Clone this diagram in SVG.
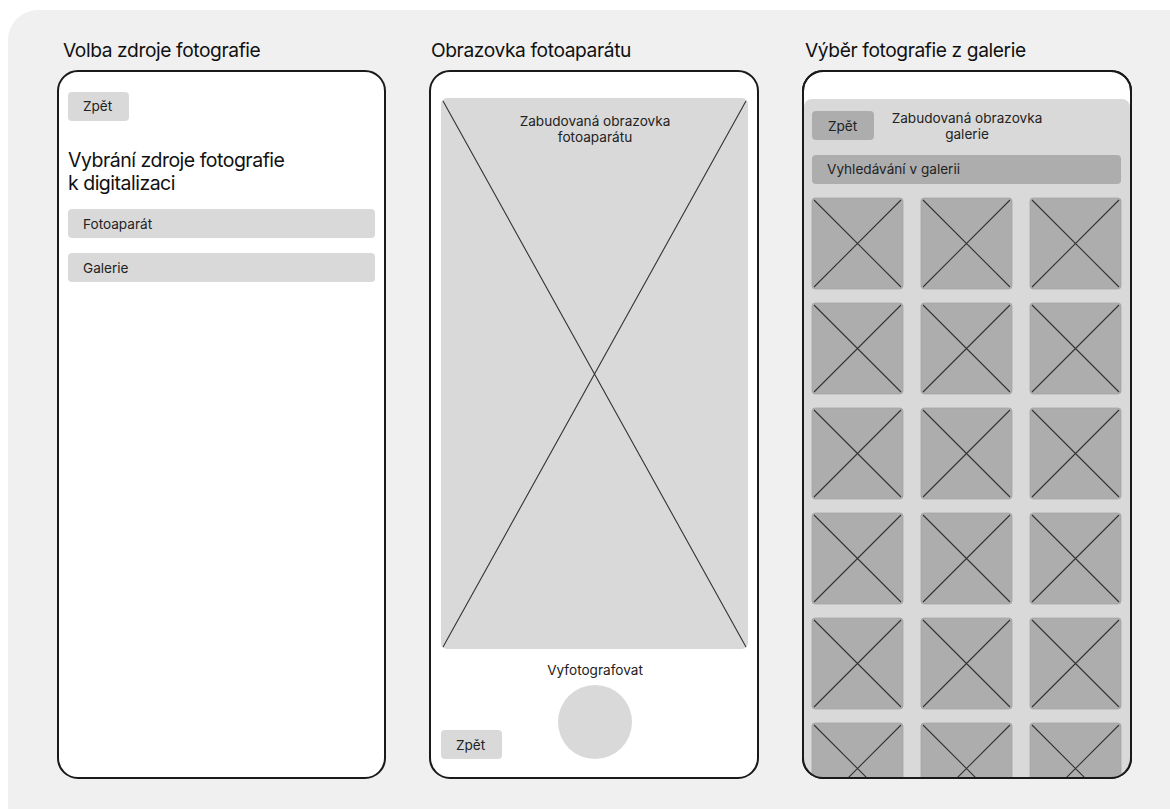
<svg xmlns="http://www.w3.org/2000/svg" width="1170" height="809" viewBox="0 0 1170 809">
<style>
.title{font-family:Inter,"Liberation Sans",sans-serif;font-size:19.2px;letter-spacing:-0.4px;fill:#111}
.h{font-family:Inter,"Liberation Sans",sans-serif;font-size:19.5px;letter-spacing:-0.5px;fill:#111}
.t{font-family:Inter,"Liberation Sans",sans-serif;font-size:13.6px;fill:#222}
.phone{fill:#fff;stroke:#1a1a1a;stroke-width:2}
.btn{fill:#d9d9d9}
.btn2{fill:#adadad}
.x{stroke:#333;stroke-width:1.1;fill:none}
</style>
<defs>
<clipPath id="p3clip"><rect x="803" y="71" width="328" height="707" rx="20"/></clipPath>
<g id="thumb">
<rect x="0" y="0" width="91" height="91" rx="3" fill="#adadad" stroke="#a5a5a5" stroke-width="0.8"/>
<path d="M2 2L89 89M89 2L2 89" class="x"/>
</g>
</defs>
<rect x="0" y="0" width="1170" height="809" fill="#fff"/>
<rect x="8" y="10" width="1200" height="830" rx="30" fill="#f0f0f0"/>

<g id="screen1">
<text class="title" x="63" y="57">Volba zdroje fotografie</text>
<rect class="phone" x="58" y="71" width="327" height="707" rx="20"/>
<rect class="btn" x="68" y="92" width="61" height="29" rx="4"/>
<text class="t" x="83" y="111">Zpět</text>
<text class="h" x="68" y="167">Vybrání zdroje fotografie</text>
<text class="h" x="68" y="190">k digitalizaci</text>
<rect class="btn" x="68" y="209" width="307" height="29" rx="4"/>
<text class="t" x="83" y="229">Fotoaparát</text>
<rect class="btn" x="68" y="253" width="307" height="29" rx="4"/>
<text class="t" x="83" y="273">Galerie</text>
</g>

<g id="screen2">
<text class="title" x="431" y="57">Obrazovka fotoaparátu</text>
<rect class="phone" x="430" y="71" width="328" height="707" rx="20"/>
<rect class="btn" x="441" y="98" width="307" height="551" rx="6"/>
<path d="M443 101L746 647M746 101L443 647" class="x"/>
<text class="t" x="595" y="126" text-anchor="middle">Zabudovaná obrazovka</text>
<text class="t" x="595" y="142" text-anchor="middle">fotoaparátu</text>
<text class="t" x="595" y="675" text-anchor="middle">Vyfotografovat</text>
<circle cx="595" cy="722" r="37" fill="#d9d9d9"/>
<rect class="btn" x="441" y="730" width="61" height="29" rx="4"/>
<text class="t" x="456" y="750">Zpět</text>
</g>

<g id="screen3">
<text class="title" x="805" y="57">Výběr fotografie z galerie</text>
<rect class="phone" x="803" y="71" width="328" height="707" rx="20"/>
<g clip-path="url(#p3clip)">
<rect x="804" y="99" width="326" height="700" rx="8" fill="#d9d9d9"/>
<rect class="btn2" x="812" y="111" width="62" height="29" rx="4"/>
<text class="t" x="828" y="131">Zpět</text>
<text class="t" x="967" y="123" text-anchor="middle">Zabudovaná obrazovka</text>
<text class="t" x="967" y="139" text-anchor="middle">galerie</text>
<rect class="btn2" x="812" y="155" width="309" height="29" rx="4"/>
<text class="t" x="827" y="174">Vyhledávání v galerii</text>
<use href="#thumb" x="812" y="198"/><use href="#thumb" x="921" y="198"/><use href="#thumb" x="1030" y="198"/>
<use href="#thumb" x="812" y="303"/><use href="#thumb" x="921" y="303"/><use href="#thumb" x="1030" y="303"/>
<use href="#thumb" x="812" y="408"/><use href="#thumb" x="921" y="408"/><use href="#thumb" x="1030" y="408"/>
<use href="#thumb" x="812" y="513"/><use href="#thumb" x="921" y="513"/><use href="#thumb" x="1030" y="513"/>
<use href="#thumb" x="812" y="618"/><use href="#thumb" x="921" y="618"/><use href="#thumb" x="1030" y="618"/>
<use href="#thumb" x="812" y="723"/><use href="#thumb" x="921" y="723"/><use href="#thumb" x="1030" y="723"/>
</g>
<rect x="803" y="71" width="328" height="707" rx="20" fill="none" stroke="#1a1a1a" stroke-width="2"/>
</g>
</svg>
